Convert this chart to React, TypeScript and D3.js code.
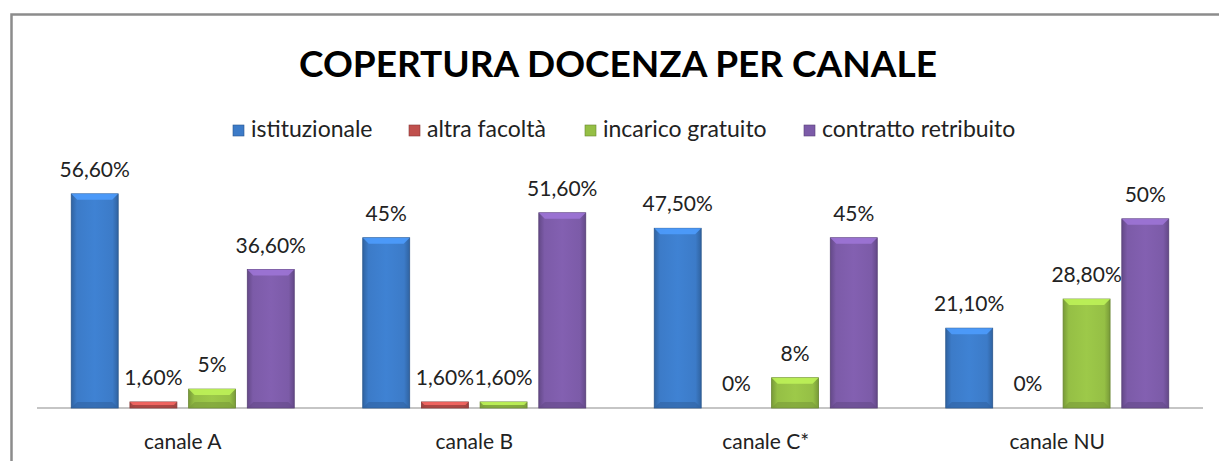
import * as d3 from "d3";

const categories = ["canale A", "canale B", "canale C*", "canale NU"];
const seriesNames = ["istituzionale", "altra facoltà", "incarico gratuito", "contratto retribuito"];
const istituzionale = [56.6, 45, 47.5, 21.1];
const altraFacolta = [1.6, 1.6, 0, 0];
const incaricoGratuito = [5, 1.6, 8, 28.8];
const contrattoRetribuito = [36.6, 51.6, 45, 50];
const colors = ["#3c7bc8", "#c0504d", "#95bf45", "#7c5ba8"];

const values = [istituzionale, altraFacolta, incaricoGratuito, contrattoRetribuito];

const width = 1219;
const height = 461;
const marginLeft = 37;
const marginRight = 16;
const baseline = 408;
const plotTop = 181;
const font = "Lato, 'Open Sans', sans-serif";

const fmt = (v: number) =>
  Number.isInteger(v) ? `${v}%` : v.toFixed(2).replace(".", ",") + "%";

function Bar({ x, y, w, h, color, id }) {
  if (h <= 0) return null;
  const c = d3.color(color);
  const light = c.brighter(0.7).formatHex();
  const dark = c.darker(0.6).formatHex();
  const darker = c.darker(1).formatHex();
  const b = Math.min(6, h / 2);
  return (
    <g>
      <defs>
        <linearGradient id={`g${id}`} x1="0" x2="1" y1="0" y2="0">
          <stop offset="0" stopColor={dark} />
          <stop offset="0.12" stopColor={color} />
          <stop offset="0.5" stopColor={c.brighter(0.15).formatHex()} />
          <stop offset="0.88" stopColor={color} />
          <stop offset="1" stopColor={dark} />
        </linearGradient>
      </defs>
      <rect x={x} y={y} width={w} height={h} fill={`url(#g${id})`} stroke={darker} strokeWidth={0.8} />
      <polygon
        points={`${x},${y} ${x + w},${y} ${x + w - b},${y + b} ${x + b},${y + b}`}
        fill={light}
        opacity={0.85}
      />
      <polygon
        points={`${x},${y + h} ${x + w},${y + h} ${x + w - b},${y + h - b} ${x + b},${y + h - b}`}
        fill={dark}
        opacity={0.6}
      />
    </g>
  );
}

export default function App() {
  const x0 = d3.scaleBand(categories, [marginLeft, width - marginRight]);
  const groupW = 223;
  const x1 = d3.scaleBand(seriesNames, [0, groupW]).paddingInner(0.2);
  const y = d3.scaleLinear([0, 60], [baseline, plotTop]);

  const legendX = [233, 409, 585, 804];

  return (
    <svg
      width={width}
      height={height}
      style={{ position: "absolute", left: 0, top: 0, background: "#fff" }}
      fontFamily={font}
    >
      <rect x={11.5} y={14.5} width={1300} height={500} fill="#fff" stroke="#8c8c8c" strokeWidth={2.5} />
      <text x={618} y={77} textAnchor="middle" fontWeight="bold" fontSize={37} fill="#000">
        COPERTURA DOCENZA PER CANALE
      </text>
      {seriesNames.map((s, i) => (
        <g key={s}>
          <rect x={legendX[i]} y={125} width={11} height={11} fill={colors[i]} stroke={d3.color(colors[i]).darker(1).formatHex()} strokeWidth={0.6} />
          <text x={legendX[i] + 18} y={137} fontSize={23} fill="#222">
            {s}
          </text>
        </g>
      ))}
      <line x1={marginLeft} x2={width - marginRight} y1={baseline} y2={baseline} stroke="#8c8c8c" strokeWidth={1.2} />
      {categories.map((cat, ci) => {
        const gx = x0(cat) + (x0.bandwidth() - groupW) / 2;
        return (
          <g key={cat}>
            {seriesNames.map((s, si) => {
              const v = values[si][ci];
              const bx = gx + x1(s);
              const by = y(v);
              return (
                <g key={s}>
                  <Bar id={`${ci}-${si}`} x={bx} y={by} w={x1.bandwidth()} h={baseline - by} color={colors[si]} />
                  <text x={bx + x1.bandwidth() / 2} y={by - 17} textAnchor="middle" fontSize={21} fill="#222">
                    {fmt(v)}
                  </text>
                </g>
              );
            })}
            <text x={x0(cat) + x0.bandwidth() / 2} y={449} textAnchor="middle" fontSize={21} fill="#222">
              {cat}
            </text>
          </g>
        );
      })}
    </svg>
  );
}
